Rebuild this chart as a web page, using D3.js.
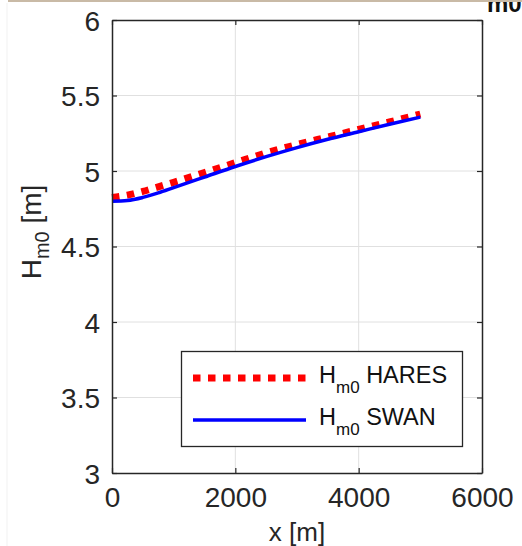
<!DOCTYPE html>
<html>
<head>
<meta charset="utf-8">
<script src="https://cdn.jsdelivr.net/npm/d3@7"></script>
<style>
  body { margin: 0; background: #fff; }
  svg { display: block; }
</style>
</head>
<body>
<div id="chart"></div>
<script>
// values
var xValues = [0, 250, 500, 750, 1000, 1500, 2000, 2500, 3000, 3500, 4000, 4500, 5000];
var hares = [4.825, 4.84, 4.865, 4.895, 4.925, 4.99, 5.055, 5.12, 5.175, 5.225, 5.275, 5.325, 5.377];
var swan = [4.80, 4.805, 4.825, 4.855, 4.89, 4.96, 5.03, 5.095, 5.155, 5.21, 5.26, 5.31, 5.357];
var xTicks = [0, 2000, 4000, 6000];
var yTicks = [3, 3.5, 4, 4.5, 5, 5.5, 6];
var seriesNames = ["HARES", "SWAN"];

var W = 522, H = 546;
// plot box (note: "top" is taken by window.top, so use other names)
var boxL = 112, boxR = 482, boxT = 20, boxB = 473;
var font = "'Liberation Sans', Arial, sans-serif";
var axisColor = "#262626";

var svg = d3.select("#chart").append("svg")
    .attr("width", W)
    .attr("height", H);

// bits of the page around the figure
svg.append("line")
    .attr("x1", 7).attr("x2", 7)
    .attr("y1", 3).attr("y2", H)
    .attr("stroke", "#f1f1f1");
svg.append("text")
    .attr("x", 487).attr("y", 12)
    .attr("font-family", font)
    .attr("font-weight", "bold")
    .attr("font-size", 24)
    .attr("fill", "#111")
    .text("m0");
svg.append("rect")
    .attr("x", 8).attr("y", 0)
    .attr("width", W - 8).attr("height", 2)
    .attr("fill", "#c9baa6");

var x = d3.scaleLinear().domain([0, 6000]).range([boxL, boxR]);
var y = d3.scaleLinear().domain([3, 6]).range([boxB, boxT]);

// grid
var grid = svg.append("g");
grid.selectAll(".gx").data(xTicks.slice(1, -1)).enter().append("line")
    .attr("x1", d => x(d)).attr("x2", d => x(d))
    .attr("y1", boxT).attr("y2", boxB)
    .attr("stroke", "#e0e0e0").attr("stroke-width", 1);
grid.selectAll(".gy").data(yTicks.slice(1, -1)).enter().append("line")
    .attr("x1", boxL).attr("x2", boxR)
    .attr("y1", d => y(d)).attr("y2", d => y(d))
    .attr("stroke", "#e0e0e0").attr("stroke-width", 1);

// series
var line = d3.line().curve(d3.curveMonotoneX);
svg.append("path")
    .attr("d", line(xValues.map((d, i) => [x(d), y(hares[i])])))
    .attr("fill", "none")
    .attr("stroke", "#ff0000")
    .attr("stroke-width", 7)
    .attr("stroke-dasharray", "7.5,7.5");
svg.append("path")
    .attr("d", line(xValues.map((d, i) => [x(d), y(swan[i])])))
    .attr("fill", "none")
    .attr("stroke", "#0000ff")
    .attr("stroke-width", 3.5);

// axes (inward ticks, box)
var fmt = d3.format("");
var axB = svg.append("g").attr("transform", "translate(0," + boxB + ")")
    .call(d3.axisBottom(x).tickValues(xTicks).tickSizeInner(-5).tickSizeOuter(0).tickPadding(14).tickFormat(fmt));
var axT = svg.append("g").attr("transform", "translate(0," + boxT + ")")
    .call(d3.axisTop(x).tickValues(xTicks).tickSizeInner(-5).tickSizeOuter(0).tickFormat(""));
var axL = svg.append("g").attr("transform", "translate(" + boxL + ",0)")
    .call(d3.axisLeft(y).tickValues(yTicks).tickSizeInner(-5).tickSizeOuter(0).tickPadding(12).tickFormat(fmt));
var axR = svg.append("g").attr("transform", "translate(" + boxR + ",0)")
    .call(d3.axisRight(y).tickValues(yTicks).tickSizeInner(-5).tickSizeOuter(0).tickFormat(""));
[axB, axT, axL, axR].forEach(function (a) {
    a.selectAll(".domain").attr("stroke", axisColor).attr("stroke-width", 1.5);
    a.selectAll(".tick line").attr("stroke", axisColor).attr("stroke-width", 1.2);
    a.selectAll("text")
        .attr("font-family", font)
        .attr("font-size", 28)
        .attr("fill", axisColor);
});
axB.selectAll("text").attr("dy", "0.71em");
axL.selectAll("text").attr("dy", "0.36em");

// axis labels
svg.append("text")
    .attr("x", (boxL + boxR) / 2).attr("y", 541)
    .attr("text-anchor", "middle")
    .attr("font-family", font).attr("font-size", 26)
    .attr("fill", axisColor)
    .text("x [m]");
var yl = svg.append("text")
    .attr("transform", "translate(41,232) rotate(-90)")
    .attr("text-anchor", "middle")
    .attr("font-family", font).attr("font-size", 28)
    .attr("fill", axisColor);
yl.append("tspan").text("H");
yl.append("tspan").attr("font-size", 20).attr("dy", 8).text("m0");
yl.append("tspan").attr("dy", -8).text(" [m]");

// legend
var lg = svg.append("g");
lg.append("rect")
    .attr("x", 181.5).attr("y", 351.5)
    .attr("width", 281).attr("height", 95)
    .attr("fill", "#fff")
    .attr("stroke", axisColor).attr("stroke-width", 1.3);
var legendRows = [
    {name: seriesNames[0], color: "#ff0000", width: 7, dash: "7.5,7.5", y: 378},
    {name: seriesNames[1], color: "#0000ff", width: 3.5, dash: null, y: 420}
];
legendRows.forEach(function (r) {
    lg.append("line")
        .attr("x1", 193).attr("x2", 306)
        .attr("y1", r.y).attr("y2", r.y)
        .attr("stroke", r.color)
        .attr("stroke-width", r.width)
        .attr("stroke-dasharray", r.dash);
    var t = lg.append("text")
        .attr("x", 319).attr("y", r.y + 5)
        .attr("font-family", font).attr("font-size", 23.5)
        .attr("fill", "#111");
    t.append("tspan").text("H");
    t.append("tspan").attr("font-size", 17).attr("dy", 10).text("m0");
    t.append("tspan").attr("dy", -10).text(" " + r.name);
});
</script>
</body>
</html>
